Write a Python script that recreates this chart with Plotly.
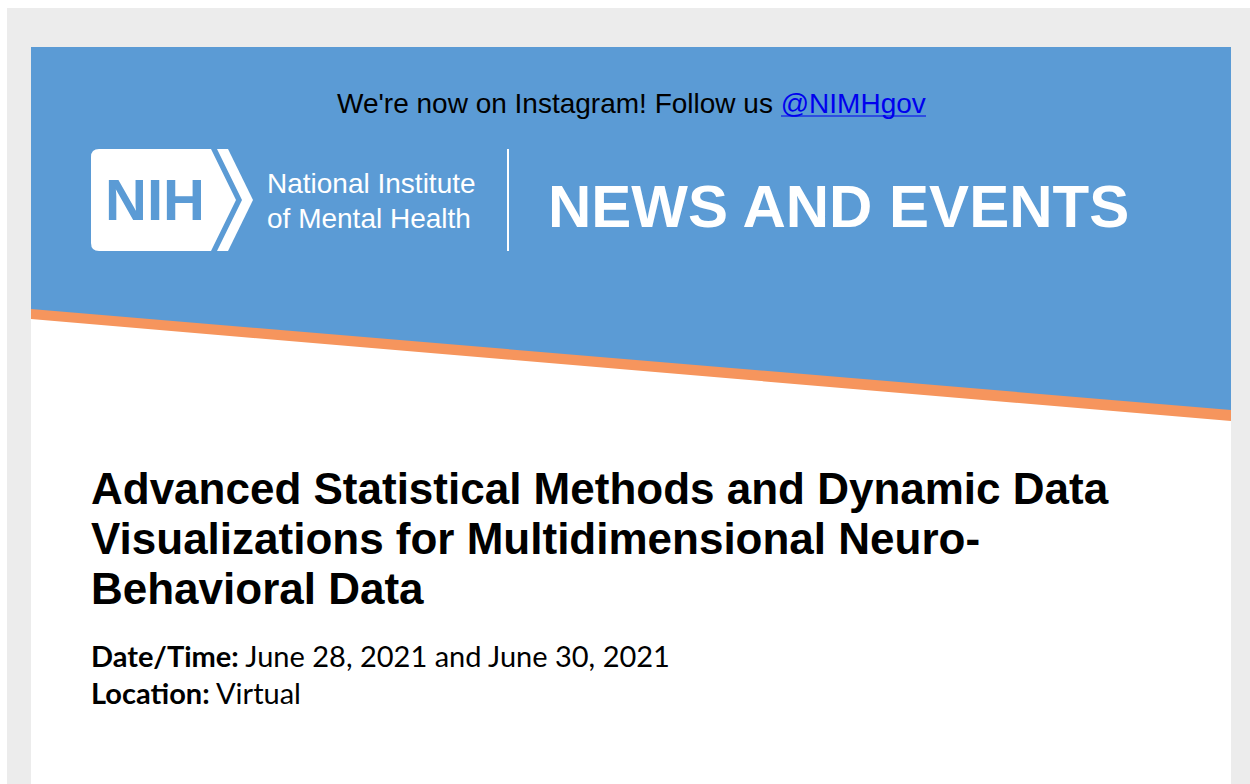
import plotly.graph_objects as go

# ---- content (text) ----
banner_text = "We're now on Instagram! Follow us "
banner_link = "@NIMHgov"
logo_mark = "NIH"
logo_lines = ["National Institute", "of Mental Health"]
header_title = "NEWS AND EVENTS"
title_lines = [
    "Advanced Statistical Methods and Dynamic Data",
    "Visualizations for Multidimensional Neuro-",
    "Behavioral Data",
]
detail_labels = ["Date/Time:", "Location:"]
detail_values = ["June 28, 2021 and June 30, 2021", "Virtual"]

# ---- colours ----
BLUE = "#5b9bd5"
ORANGE = "#f6955d"
GREY = "#ececec"

W, H = 1250, 784
fig = go.Figure()

shapes = []
# grey page background
shapes.append(dict(type="rect", x0=7, x1=W, y0=8, y1=H, fillcolor=GREY, line_width=0, layer="below"))
# white content card
shapes.append(dict(type="rect", x0=31, x1=1231, y0=47, y1=H, fillcolor="white", line_width=0, layer="below"))
# blue header with slanted bottom
shapes.append(dict(type="path", path="M 31 47 L 1231 47 L 1231 411 L 31 310 Z",
                   fillcolor=BLUE, line_width=0, layer="below"))
# orange slanted stripe
shapes.append(dict(type="path", path="M 31 309 L 1231 410 L 1231 421 L 31 319 Z",
                   fillcolor=ORANGE, line_width=0, layer="below"))
# NIH logo white badge with chevron
shapes.append(dict(type="path",
                   path="M 99 149 L 228 149 L 253 200 L 228 251 L 99 251 Q 91 251 91 243 L 91 157 Q 91 149 99 149 Z",
                   fillcolor="white", line_width=0, layer="below"))
# blue chevron line inside the badge
shapes.append(dict(type="path",
                   path="M 211 149 L 217 149 L 242 200 L 217 251 L 211 251 L 236 200 Z",
                   fillcolor=BLUE, line_width=0, layer="below"))
# vertical divider
shapes.append(dict(type="line", x0=508, x1=508, y0=149, y1=251, line=dict(color="white", width=2)))
# link underline
shapes.append(dict(type="line", x0=781, x1=926, y0=116, y1=116, line=dict(color="#0000ee", width=1.2)))

ann = []
ann.append(dict(x=631, y=103, xanchor="center", yanchor="middle",
                text=banner_text + '<span style="color:#0000ee">' + banner_link + "</span>",
                font=dict(family="Liberation Sans, Arial", size=28, color="black")))
ann.append(dict(x=155, y=199, xanchor="center", yanchor="middle", text="<b>" + logo_mark + "</b>",
                font=dict(family="Liberation Sans, Arial", size=58, color=BLUE)))
ann.append(dict(x=265, y=183, xanchor="left", yanchor="middle", text=logo_lines[0],
                font=dict(family="Liberation Sans, Arial", size=28, color="white")))
ann.append(dict(x=265, y=218, xanchor="left", yanchor="middle", text=logo_lines[1],
                font=dict(family="Liberation Sans, Arial", size=28, color="white")))
ann.append(dict(x=546, y=206, xanchor="left", yanchor="middle", text="<b>" + header_title + "</b>",
                font=dict(family="Liberation Sans, Arial", size=60, color="white")))
for i, line in enumerate(title_lines):
    ann.append(dict(x=89, y=488 + 50 * i, xanchor="left", yanchor="middle", text="<b>" + line + "</b>",
                    font=dict(family="Liberation Sans, Arial", size=44, color="black")))
for i, (lab, val) in enumerate(zip(detail_labels, detail_values)):
    ann.append(dict(x=89, y=655 + 37 * i, xanchor="left", yanchor="middle",
                    text="<b>" + lab + "</b> " + val,
                    font=dict(family="Lato", size=29, color="black")))

for a in ann:
    a.update(xref="x", yref="y", showarrow=False)

fig.update_layout(
    width=W, height=H,
    margin=dict(l=0, r=0, t=0, b=0),
    paper_bgcolor="white", plot_bgcolor="white",
    xaxis=dict(range=[0, W], visible=False, fixedrange=True),
    yaxis=dict(range=[H, 0], visible=False, fixedrange=True),
    shapes=shapes, annotations=ann, showlegend=False,
)

fig.write_html("out.html", config={"displayModeBar": False, "staticPlot": True},
               post_script="document.body.style.margin='0';document.body.style.overflow='hidden';")
